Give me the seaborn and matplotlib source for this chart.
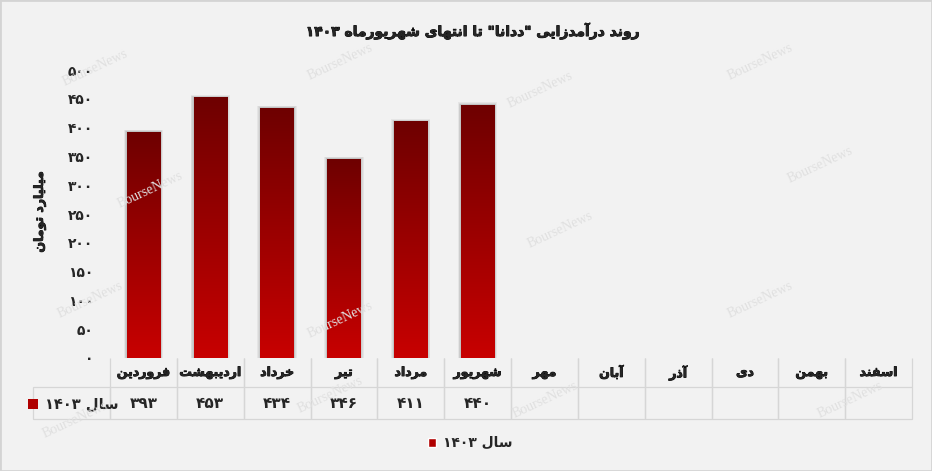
import re
import numpy as np
import pandas as pd
import seaborn as sns
import matplotlib.pyplot as plt
import matplotlib.patheffects as pe
from matplotlib.colors import LinearSegmentedColormap
from matplotlib.patches import Rectangle, Patch
from matplotlib.offsetbox import HPacker, TextArea, DrawingArea, AnnotationBbox

# data
months = ['فروردین', 'اردیبهشت', 'خرداد', 'تیر', 'مرداد', 'شهریور',
          'مهر', 'آبان', 'آذر', 'دی', 'بهمن', 'اسفند']
revenue = [393, 453, 434, 346, 411, 440,
           np.nan, np.nan, np.nan, np.nan, np.nan, np.nan]
series_name = 'سال ۱۴۰۳'
y_ticks = [0, 50, 100, 150, 200, 250, 300, 350, 400, 450, 500]
title = 'روند درآمدزایی "ددانا" تا انتهای شهریورماه ۱۴۰۳'
y_label = 'میلیارد تومان'

# arabic presentation forms: isolated, final, (initial, medial)
FORMS = {
    'ا': ('\uFE8D', '\uFE8E'), 'آ': ('\uFE81', '\uFE82'),
    'ب': ('\uFE8F', '\uFE90', '\uFE91', '\uFE92'),
    'ت': ('\uFE95', '\uFE96', '\uFE97', '\uFE98'),
    'خ': ('\uFEA5', '\uFEA6', '\uFEA7', '\uFEA8'),
    'د': ('\uFEA9', '\uFEAA'), 'ذ': ('\uFEAB', '\uFEAC'),
    'ر': ('\uFEAD', '\uFEAE'), 'ز': ('\uFEAF', '\uFEB0'),
    'س': ('\uFEB1', '\uFEB2', '\uFEB3', '\uFEB4'),
    'ش': ('\uFEB5', '\uFEB6', '\uFEB7', '\uFEB8'),
    'ف': ('\uFED1', '\uFED2', '\uFED3', '\uFED4'),
    'ل': ('\uFEDD', '\uFEDE', '\uFEDF', '\uFEE0'),
    'م': ('\uFEE1', '\uFEE2', '\uFEE3', '\uFEE4'),
    'ن': ('\uFEE5', '\uFEE6', '\uFEE7', '\uFEE8'),
    'ه': ('\uFEE9', '\uFEEA', '\uFEEB', '\uFEEC'),
    'و': ('\uFEED', '\uFEEE'),
    'ی': ('\uFBFC', '\uFBFD', '\uFBFE', '\uFBFF'),
}


def fa(text):
    # shape letters, then lay the line out right to left
    out = []
    for i, ch in enumerate(text):
        if ch not in FORMS:
            out.append(ch)
            continue
        prev = text[i - 1] if i > 0 else ''
        nxt = text[i + 1] if i + 1 < len(text) else ''
        f = FORMS[ch]
        jp = prev in FORMS and len(FORMS[prev]) == 4
        jn = nxt in FORMS and len(f) == 4
        if jp and jn:
            out.append(f[3])
        elif jp:
            out.append(f[1])
        elif jn:
            out.append(f[2])
        else:
            out.append(f[0])
    vis = ''.join(out)[::-1]
    return re.sub(r'[0-9۰-۹]+', lambda m: m.group(0)[::-1], vis)


def fa_num(v):
    return str(int(v)).translate(str.maketrans('0123456789', '۰۱۲۳۴۵۶۷۸۹'))


sns.set_style('white')
plt.rcParams['font.family'] = ['DejaVu Sans']
heavy = [pe.withStroke(linewidth=0.6, foreground='black')]

W, H = 932, 471
bg = '#f2f2f2'
fig = plt.figure(figsize=(W / 100, H / 100), dpi=100, facecolor=bg)
ax = fig.add_axes([110 / W, 1 - 358 / H, 802 / W, 288 / H])
ax.set_facecolor(bg)

df = pd.DataFrame({'month': months, 'value': revenue})
sns.barplot(data=df, x='month', y='value', order=months, width=0.5,
            color='#b00000', linewidth=0, ax=ax, zorder=2)
bars = [p for p in ax.patches if np.isfinite(p.get_height()) and p.get_height() > 0]

# soft shadow + vertical gradient on each bar
cmap = LinearSegmentedColormap.from_list('bar', ['#c80000', '#6e0000'])
grad = np.linspace(0, 1, 256).reshape(-1, 1)
for p in bars:
    p.set_edgecolor('none')
    x, w, h = p.get_x(), p.get_width(), p.get_height()
    for k in range(1, 5):
        ax.add_patch(Rectangle((x - k * 0.011, 0), w + 2 * k * 0.011, h + k * 0.9,
                               facecolor='black', alpha=0.05, lw=0, zorder=1))
    im = ax.imshow(grad, extent=[x, x + w, 0, h], origin='lower', aspect='auto',
                   cmap=cmap, zorder=3)
    im.set_clip_path(p)

ax.set_xlim(-0.5, len(months) - 0.5)
ax.set_ylim(0, 500)
sns.despine(ax=ax, left=True, bottom=True)
ax.set_xticks([])
ax.set_xlabel('')
ax.set_yticks(y_ticks)
ax.set_yticklabels([fa_num(t) for t in y_ticks], fontsize=10, fontweight='bold')
ax.tick_params(axis='y', length=0, pad=12)
ax.set_ylabel(fa(y_label), fontsize=9, fontweight='bold', path_effects=heavy)
ax.yaxis.set_label_coords(-0.08, 0.507)

# data table under the bars (bbox covers the month grid, row label hangs left)
cell_text = [[fa_num(v) if np.isfinite(v) else '' for v in revenue]]
tbl = ax.table(cellText=cell_text, colLabels=[fa(m) for m in months],
               rowLabels=[''], colWidths=[1 / 12] * 12, cellLoc='center',
               bbox=[0, -61 / 288, 1, 61 / 288])
tbl._autoColumns = []
tbl.auto_set_font_size(False)
for (r, c), cell in tbl.get_celld().items():
    cell.set_facecolor('none')
    cell.set_edgecolor('#d6d6d6')
    cell.set_linewidth(0.9)
    if c == -1:
        cell.set_width(77 / 802)
    txt = cell.get_text()
    txt.set_fontweight('bold')
    if r == 0:
        txt.set_fontsize(9)
        txt.set_path_effects(heavy)
        cell.visible_edges = 'LR'
        cell.set_height(29 / 288)
    else:
        txt.set_fontsize(11)
        cell.set_height(32 / 288)

# series key inside the row-label cell
da = DrawingArea(7, 7, 0, 0)
da.add_artist(Rectangle((0, 0), 7, 7, facecolor='#b00000', lw=0))
lab = TextArea(fa(series_name), textprops=dict(fontsize=10.5, fontweight='bold'))
box = HPacker(children=[da, lab], align='center', pad=0, sep=5)
ax.add_artist(AnnotationBbox(box, (73, H - 404), xycoords='figure pixels',
                             frameon=False))

fig.text(473 / W, 1 - 31 / H, fa(title), ha='center', va='center',
         fontsize=10, fontweight='bold', path_effects=heavy)

fig.legend(handles=[Patch(facecolor='#b00000')], labels=[fa(series_name)],
           loc='center', bbox_to_anchor=(470 / W, 1 - 443 / H), frameon=False,
           handlelength=0.6, handleheight=0.6, handletextpad=0.5,
           prop={'weight': 'bold', 'size': 10})

# faint watermarks
marks = [(340, 62), (95, 68), (150, 190), (90, 300), (340, 320), (540, 90),
         (760, 62), (820, 165), (760, 300), (75, 420), (330, 395), (545, 400),
         (850, 400), (560, 230)]
for mx, my in marks:
    fig.text(mx / W, 1 - my / H, 'BourseNews', family='Liberation Serif',
             fontsize=10, color='#e0e0e0', rotation=25, ha='center', va='center',
             zorder=0)

fig.add_artist(Rectangle((0, 0), 1, 1, transform=fig.transFigure, fill=False,
                         edgecolor='#d4d4d4', lw=2))

fig.savefig('out.png', dpi=100, facecolor=bg)
